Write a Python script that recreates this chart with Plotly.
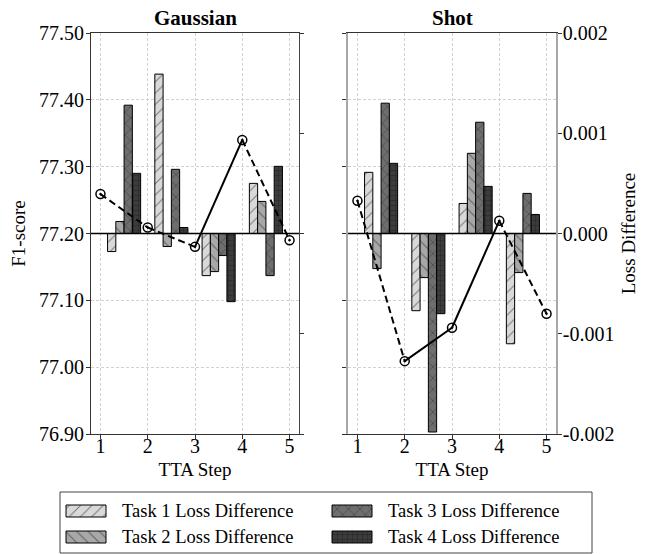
import plotly.graph_objects as go

# ---------------- data ----------------
steps = [1, 2, 3, 4, 5]
bar_steps = [1.5, 2.5, 3.5, 4.5]
tasks = ["Task 1 Loss Difference", "Task 2 Loss Difference",
         "Task 3 Loss Difference", "Task 4 Loss Difference"]

gauss_f1 = [77.259, 77.209, 77.180, 77.340, 77.190]
shot_f1 = [77.249, 77.009, 77.059, 77.219, 77.080]

gauss_loss = [
    [-0.00018, 0.00159, -0.00042, 0.00050],   # task 1
    [0.00012, -0.00013, -0.00038, 0.00032],   # task 2
    [0.00128, 0.00064, -0.00022, -0.00042],   # task 3
    [0.00060, 0.00006, -0.00068, 0.00067],    # task 4
]
shot_loss = [
    [0.00061, -0.00077, 0.00030, -0.00110],
    [-0.00035, -0.00044, 0.00080, -0.00039],
    [0.00130, -0.00198, 0.00111, 0.00040],
    [0.00070, -0.00080, 0.00047, 0.00019],
]

f1_ticks = [76.9, 77.0, 77.1, 77.2, 77.3, 77.4, 77.5]
f1_ticktext = ["76.90", "77.00", "77.10", "77.20", "77.30", "77.40", "77.50"]
loss_ticks = [-0.002, -0.001, 0.0, 0.001, 0.002]
loss_ticktext = ["-0.002", "-0.001", "0.000", "0.001", "0.002"]

# ---------------- styles ----------------
FONT = "Liberation Serif, Times New Roman, serif"
bar_colors = ["#d9d9d9", "#a8a8a8", "#6e6e6e", "#3c3c3c"]
bar_shapes = ["/", "\\", "x", "+"]
bar_sizes = [8, 8, 8, 5]
bar_solid = [0.12, 0.12, 0.14, 0.22]

OFF = 8            # page body margin
W, H = 646 - OFF, 554 - OFF
TOP = 33 - OFF


def px_x(p):
    return (p - OFF) / W


def px_y(p):
    return (H - (p - OFF)) / (H - TOP)


L_DOM = [px_x(91), px_x(299)]
R_DOM = [px_x(348), px_x(556)]
Y_DOM = [px_y(434), 1.0]

fig = go.Figure()


def add_panel(xa, ya_loss, ya_f1, loss, f1):
    for i in range(4):
        fig.add_trace(go.Bar(
            x=bar_steps, y=loss[i], xaxis=xa, yaxis=ya_loss,
            name=tasks[i], showlegend=False,
            marker=dict(color=bar_colors[i],
                        line=dict(color="black", width=1),
                        pattern=dict(shape=bar_shapes[i], fillmode="overlay",
                                     bgcolor=bar_colors[i], fgcolor="#111111",
                                     size=bar_sizes[i], solidity=bar_solid[i])),
        ))
    for k in range(len(steps) - 1):
        dash = "solid" if f1[k + 1] > f1[k] else "7px,4px"
        fig.add_trace(go.Scatter(
            x=steps[k:k + 2], y=f1[k:k + 2], xaxis=xa, yaxis=ya_f1,
            mode="lines", showlegend=False,
            line=dict(color="black", width=2, dash=dash),
        ))
    fig.add_trace(go.Scatter(
        x=steps, y=f1, xaxis=xa, yaxis=ya_f1, mode="markers", showlegend=False,
        marker=dict(symbol="circle-open-dot", size=9, color="black",
                    line=dict(color="black", width=1.5)),
    ))


add_panel("x", "y", "y2", gauss_loss, gauss_f1)
add_panel("x2", "y3", "y4", shot_loss, shot_f1)

# ---------------- custom legend (swatches on helper axes) ----------------
leg_rows = [19, 45, 19, 45]
leg_cols = [6, 6, 272, 272]
leg_text_x = [60, 60, 326, 326]
for i in range(4):
    fig.add_trace(go.Bar(
        x=[40], y=[leg_rows[i]], base=[leg_cols[i]], orientation="h",
        xaxis="x3", yaxis="y5", width=12, offset=-6, showlegend=False,
        marker=dict(color=bar_colors[i], line=dict(color="black", width=1),
                    pattern=dict(shape=bar_shapes[i], fillmode="overlay",
                                 bgcolor=bar_colors[i], fgcolor="#111111",
                                 size=bar_sizes[i], solidity=bar_solid[i])),
        hoverinfo="skip",
    ))

annotations = []
for i in range(4):
    annotations.append(dict(
        x=leg_text_x[i], y=leg_rows[i], xref="x3", yref="y5", text=tasks[i],
        showarrow=False, xanchor="left", yanchor="middle",
        font=dict(family=FONT, size=18.5, color="black")))

for xd, title in [("x", "Gaussian"), ("x2", "Shot")]:
    annotations.append(dict(
        x=0.5, y=1, xref=f"{xd} domain", yref="paper", text=f"<b>{title}</b>",
        showarrow=False, xanchor="center", yanchor="bottom", yshift=1,
        font=dict(family=FONT, size=21, color="black")))

shapes = [
    dict(type="line", xref="x domain", yref="y", x0=0, x1=1, y0=0, y1=0,
         line=dict(color="black", width=1.5), layer="above"),
    dict(type="line", xref="x2 domain", yref="y3", x0=0, x1=1, y0=0, y1=0,
         line=dict(color="black", width=1.5), layer="above"),
    dict(type="rect", xref="x3 domain", yref="y5 domain", x0=0, x1=1, y0=0, y1=1,
         line=dict(color="#444444", width=1), fillcolor="rgba(0,0,0,0)"),
]

tickfont = dict(family=FONT, size=20, color="black")
titlefont = dict(family=FONT, size=19, color="black")
grid = dict(showgrid=True, gridcolor="#d2d2d2", griddash="3px,2px", gridwidth=0.8)


def xaxis(dom, anchor):
    return dict(domain=dom, anchor=anchor, range=[0.8, 5.2], tickvals=steps,
                ticks="outside", ticklen=4, tickwidth=1, tickcolor="#333333",
                showline=True, linecolor="#333333", linewidth=1.2, mirror=True,
                tickfont=tickfont, zeroline=False, ticklabelstandoff=-10,
                title=dict(text="TTA Step", font=titlefont, standoff=6),
                automargin=False, **grid)


fig.update_layout(
    template="none",
    width=W, height=H,
    margin=dict(l=0, r=0, t=TOP, b=0, pad=0),
    paper_bgcolor="white", plot_bgcolor="white",
    barmode="group", bargap=0.3, bargroupgap=0,
    font=dict(family=FONT, color="black"),
    xaxis=xaxis(L_DOM, "y"),
    xaxis2=xaxis(R_DOM, "y3"),
    yaxis=dict(domain=Y_DOM, anchor="x", side="right", range=[-0.002, 0.002],
               tickvals=loss_ticks, showticklabels=False, ticks="outside",
               ticklen=4, tickcolor="#333333", showline=True,
               linecolor="#444444", linewidth=1.2, showgrid=False,
               zeroline=False, automargin=False),
    yaxis2=dict(overlaying="y", anchor="x", side="left", range=[76.9, 77.5],
                tickvals=f1_ticks, ticktext=f1_ticktext, ticks="outside",
                ticklen=4, tickcolor="#333333", showline=True,
                linecolor="#333333", linewidth=1.2, tickfont=tickfont,
                zeroline=False, automargin=False, ticklabelstandoff=-2,
                title=dict(text="F1-score", font=titlefont, standoff=9),
                **grid),
    yaxis3=dict(domain=Y_DOM, anchor="x2", side="right", range=[-0.002, 0.002],
                tickvals=loss_ticks, ticktext=loss_ticktext, ticks="outside",
                ticklen=4, tickcolor="#333333", showline=True,
                linecolor="#a8a8a8", linewidth=1.5, tickfont=tickfont,
                showgrid=False, zeroline=False, automargin=False,
                ticklabelstandoff=-3,
                title=dict(text="Loss Difference", font=titlefont, standoff=8)),
    yaxis4=dict(overlaying="y3", anchor="x2", side="left", range=[76.9, 77.5],
                tickvals=f1_ticks, showticklabels=False, ticks="outside",
                ticklen=4, tickcolor="#333333", showline=True,
                linecolor="#a8a8a8", linewidth=1.5, zeroline=False,
                automargin=False, **grid),
    xaxis3=dict(domain=[px_x(60), px_x(592)], anchor="y5", range=[0, 532],
                visible=False, fixedrange=True),
    yaxis5=dict(domain=[px_y(553), px_y(492)], anchor="x3", range=[61, 0],
                visible=False, fixedrange=True),
    annotations=annotations,
    shapes=shapes,
)

fig.write_html("out.html")
